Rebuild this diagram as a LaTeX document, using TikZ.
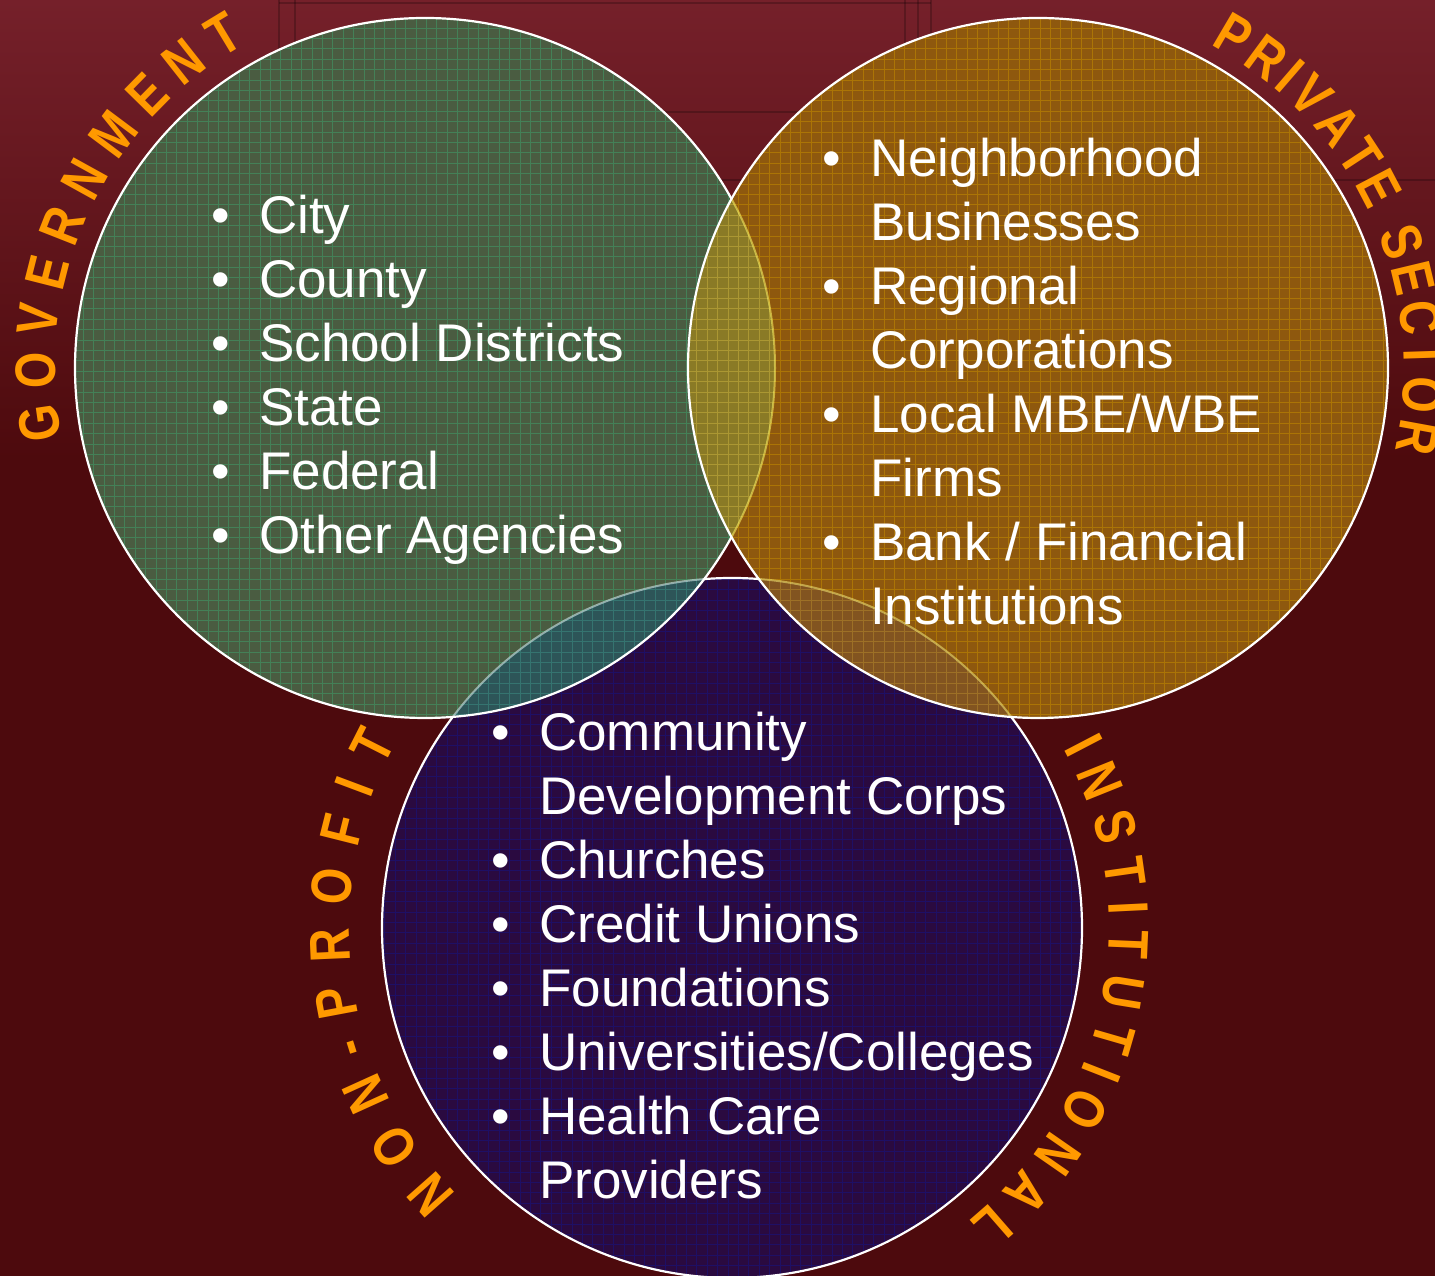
\documentclass[tikz,border=0pt]{standalone}
\usepackage{fontspec}
\setmainfont{Liberation Sans}
\newfontfamily\arcfam[FakeStretch=0.82]{Liberation Sans}
\usetikzlibrary{decorations.text,calc}
\definecolor{bgtop}{HTML}{75202A}
\definecolor{bgbot}{HTML}{4D0A0D}
\definecolor{lblorange}{HTML}{FF9900}
\definecolor{gfill}{HTML}{4A5C41}
\definecolor{ggrid}{HTML}{3FA46E}
\definecolor{ofill}{HTML}{8E580E}
\definecolor{ogrid}{HTML}{C89000}
\definecolor{bfill}{HTML}{2A0A40}
\definecolor{bgridc}{HTML}{14148A}
\definecolor{gofill}{HTML}{8A7A26}
\definecolor{gogrid}{HTML}{CDB440}
\definecolor{gbfill}{HTML}{2D5558}
\definecolor{gbgrid}{HTML}{3E9488}
\definecolor{obfill}{HTML}{825420}
\definecolor{obgrid}{HTML}{B88C2C}
\newcommand\arcfont{\arcfam\fontsize{57}{60}\selectfont\bfseries}
\tikzset{
  edge/.style={draw=white, line width=2.2pt},
  faintedge/.style={draw=#1, line width=2pt},
  gridline/.style={draw=#1, line width=0.9pt, opacity=0.5},
  oldline/.style={draw=black, line width=1.5pt, opacity=0.22},
  listnode/.style={text=white, inner sep=0pt, anchor=base west, font=\fontsize{53}{64}\selectfont},
  arclabel/.style={decorate, decoration={text along path, text align=fit to path, text color=lblorange, text={|\arcfont|#1}}}
}
\begin{document}
\begin{tikzpicture}[x=1pt,y=1pt]
\useasboundingbox (0,0) rectangle (1435,1276);
\coordinate (gc) at (425,908);
\coordinate (oc) at (1038,908);
\coordinate (bc) at (732,348);
% background
\fill[bgbot] (0,0) rectangle (1435,1276);
\shade[top color=bgtop, bottom color=bgbot] (0,816) rectangle (1435,1276);
% faint old frame lines
\draw[oldline] (279,1276) -- (279,1096);
\draw[oldline] (295,1276) -- (295,1096);
\draw[oldline] (279,1273) -- (931,1273);
\draw[oldline] (279,1164) -- (931,1164);
\draw[oldline] (560,1096) -- (1435,1096);
\draw[oldline] (905,1276) -- (905,1164);
\draw[oldline] (918,1276) -- (918,1164);
\draw[oldline] (931,1276) -- (931,1164);
% blue circle
\fill[bfill] (bc) circle[radius=350];
\begin{scope}
  \clip (bc) circle[radius=350];
  \draw[gridline=bgridc] ($(bc)-(360,360)$) grid[step=10.4] ($(bc)+(360,360)$);
\end{scope}
\draw[edge] (bc) circle[radius=350];
% green circle
\fill[gfill] (gc) circle[radius=350];
\begin{scope}
  \clip (gc) circle[radius=350];
  \draw[gridline=ggrid] ($(gc)-(360,360)$) grid[step=10.4] ($(gc)+(360,360)$);
  \begin{scope}
    \clip (bc) circle[radius=350];
    \fill[gbfill] (bc) circle[radius=350];
    \draw[gridline=gbgrid] ($(bc)-(360,360)$) grid[step=10.4] ($(bc)+(360,360)$);
  \end{scope}
  \draw[faintedge={white!70!teal!60!white}, opacity=0.6] (bc) circle[radius=350];
\end{scope}
\draw[edge] (gc) circle[radius=350];
% orange circle
\fill[ofill] (oc) circle[radius=350];
\begin{scope}
  \clip (oc) circle[radius=350];
  \draw[gridline=ogrid] ($(oc)-(360,360)$) grid[step=10.4] ($(oc)+(360,360)$);
  \begin{scope}
    \clip (gc) circle[radius=350];
    \fill[gofill] (gc) circle[radius=350];
    \draw[gridline=gogrid] ($(gc)-(360,360)$) grid[step=10.4] ($(gc)+(360,360)$);
  \end{scope}
  \begin{scope}
    \clip (bc) circle[radius=350];
    \fill[obfill] (bc) circle[radius=350];
    \draw[gridline=obgrid] ($(bc)-(360,360)$) grid[step=10.4] ($(bc)+(360,360)$);
  \end{scope}
  \draw[faintedge={yellow!60!white}, opacity=0.55] (gc) circle[radius=350];
  \draw[faintedge={yellow!50!white}, opacity=0.5] (bc) circle[radius=350];
\end{scope}
\draw[edge] (oc) circle[radius=350];
% curved labels
\path[arclabel={GOVERNMENT}] ($(gc)+(191:370)$) arc[start angle=191, end angle=119, radius=370];
\path[arclabel={PRIVATE SECTOR}] ($(oc)+(62:366)$) arc[start angle=62, end angle=-13, radius=366];
\path[arclabel={NON-PROFIT}] ($(bc)+(224:383)$) arc[start angle=224, end angle=151, radius=383];
\path[arclabel={INSTITUTIONAL}] ($(bc)+(28.5:377)$) arc[start angle=28.5, end angle=-51, radius=377];
% lists
\node[listnode] (govlist) at (211,1042) {\begin{tabular}[t]{@{}p{48pt}@{}l@{}}
•&City\\
•&County\\
•&School Districts\\
•&State\\
•&Federal\\
•&Other Agencies
\end{tabular}};
\node[listnode] (privlist) at (822,1099) {\begin{tabular}[t]{@{}p{48pt}@{}l@{}}
•&Neighborhood\\
&Businesses\\
•&Regional\\
&Corporations\\
•&Local MBE/WBE\\
&Firms\\
•&Bank / Financial\\
&Institutions
\end{tabular}};
\node[listnode] (nplist) at (491,525) {\begin{tabular}[t]{@{}p{48pt}@{}l@{}}
•&Community\\
&Development Corps\\
•&Churches\\
•&Credit Unions\\
•&Foundations\\
•&Universities/Colleges\\
•&Health Care\\
&Providers
\end{tabular}};
\end{tikzpicture}
\end{document}
